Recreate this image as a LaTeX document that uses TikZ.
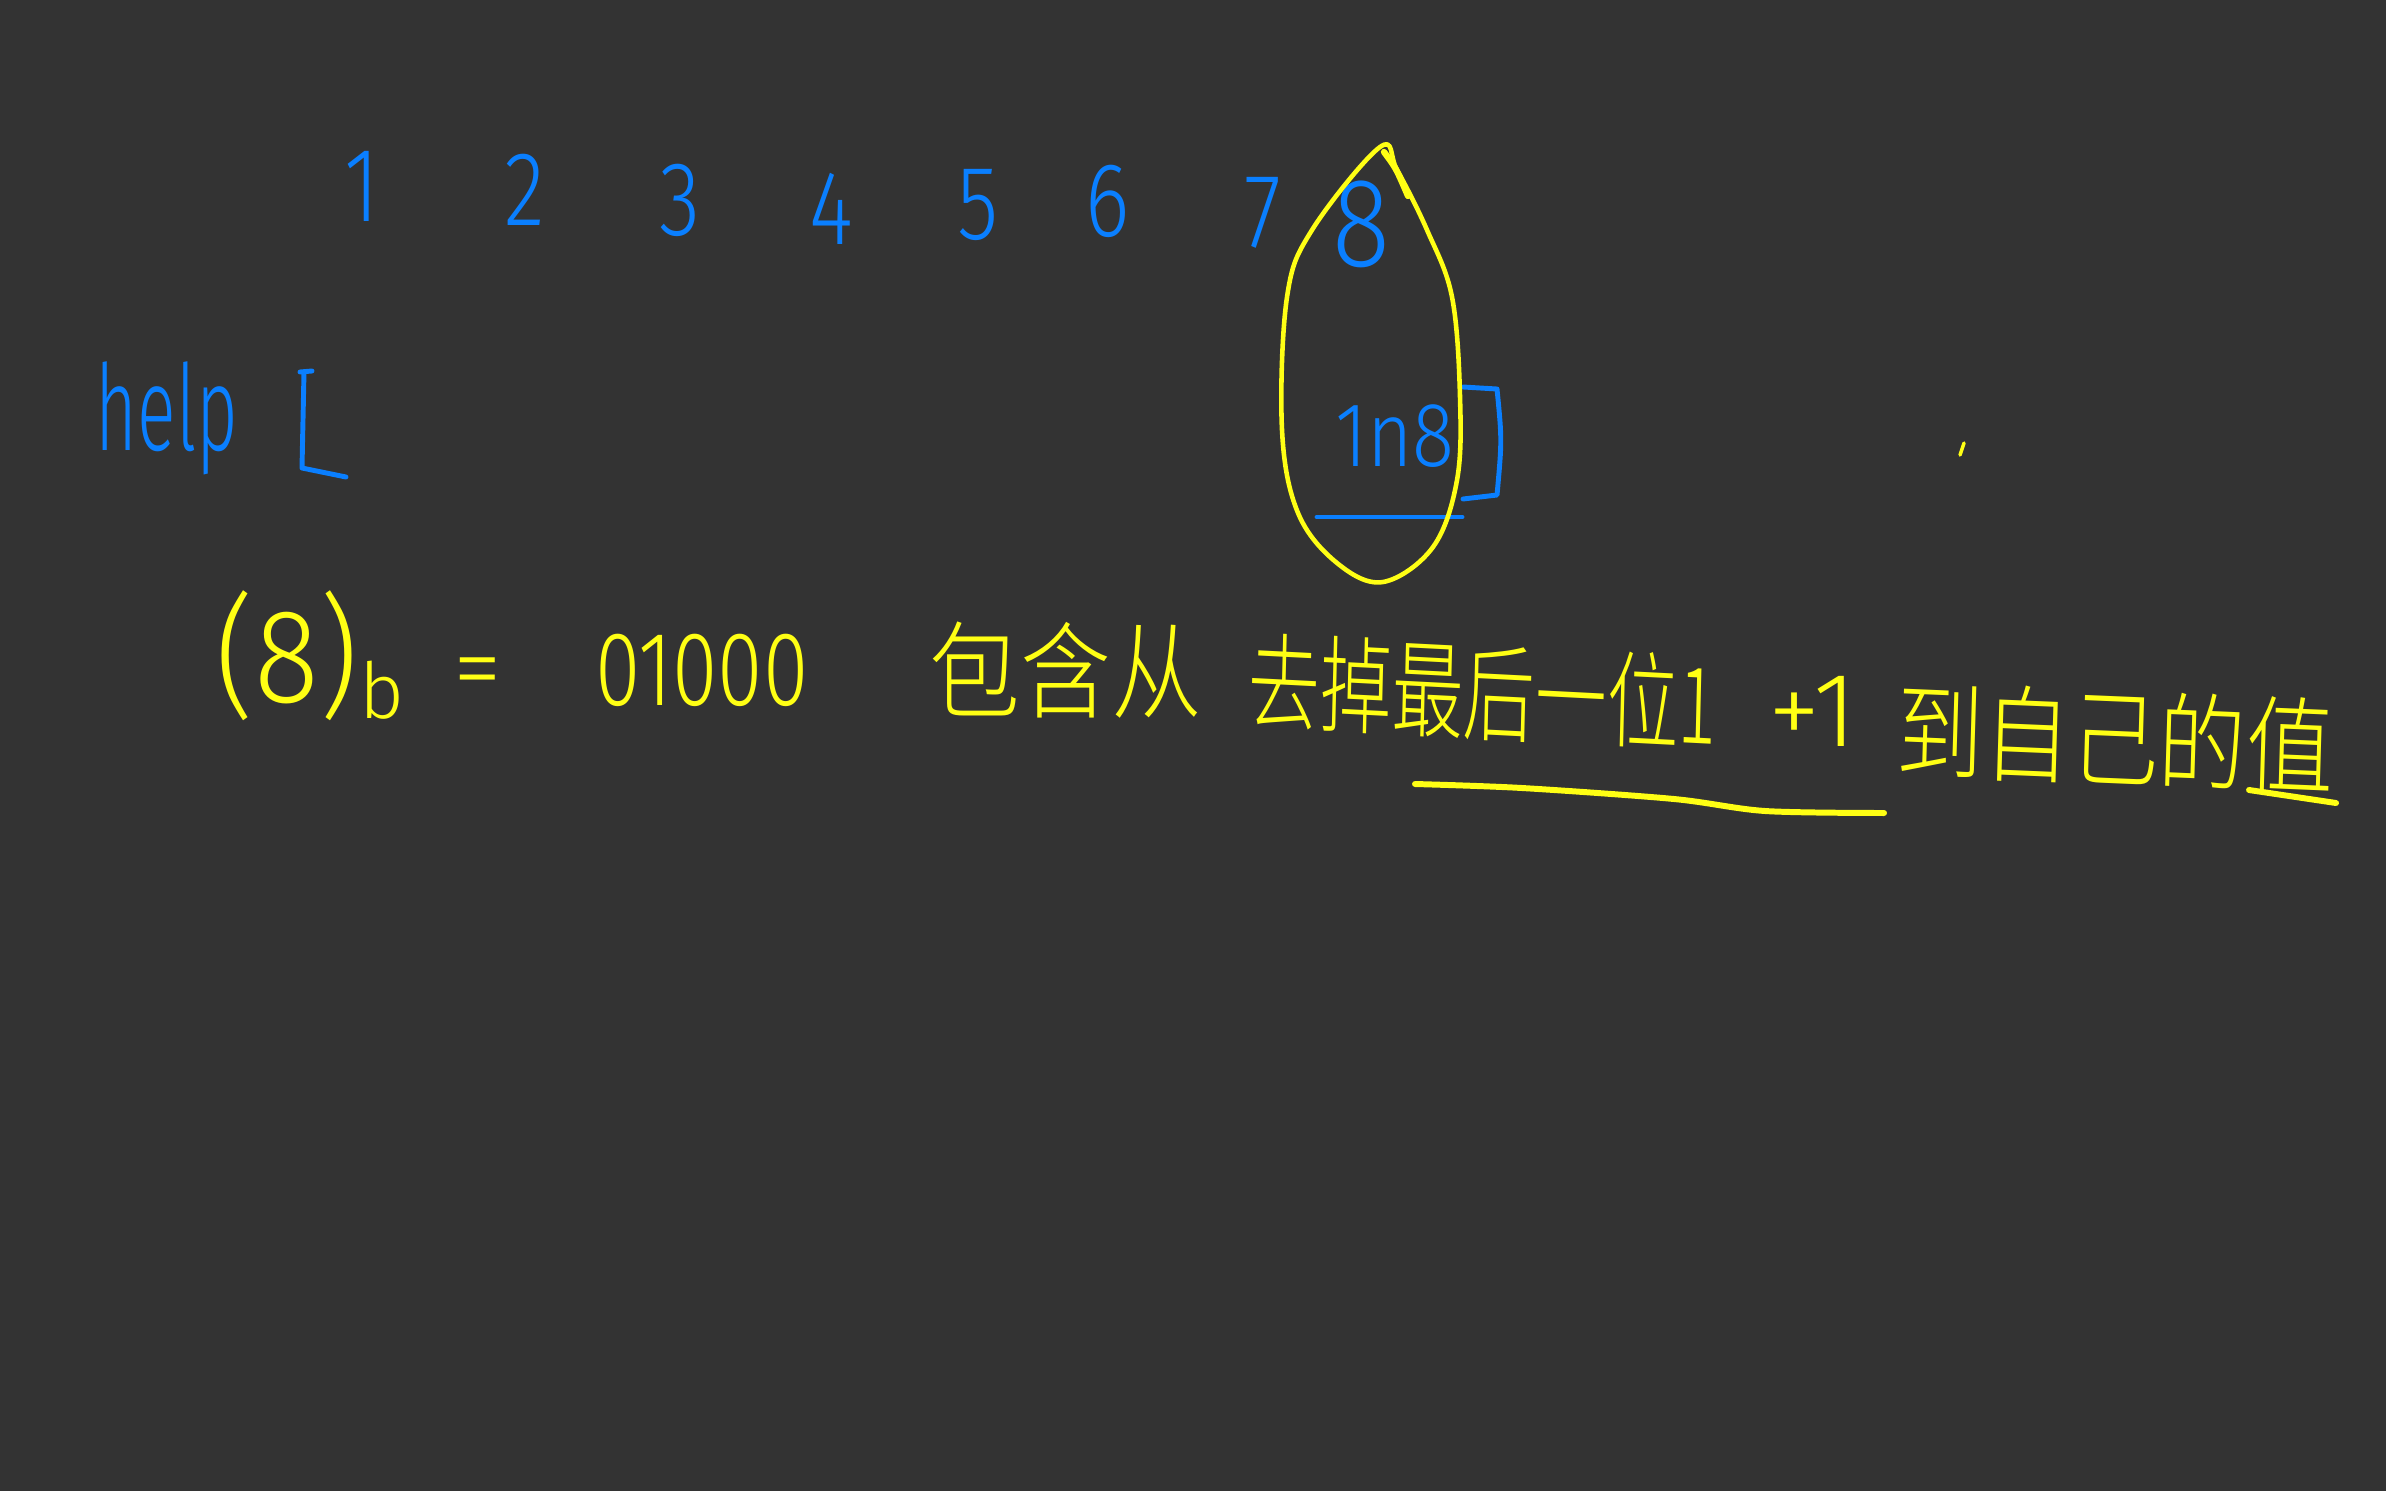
\documentclass[tikz,border=0pt]{standalone}
\usepackage{fontspec}
\setmainfont{Fira Sans Light}
\newfontfamily\cjk{Noto Sans CJK SC}[UprightFont={* Light}]
\definecolor{board}{HTML}{333333}
\definecolor{penblue}{HTML}{0A7FFF}
\definecolor{penyellow}{HTML}{FFFF14}
\begin{document}
\begin{tikzpicture}[x=0.01cm, y=-0.01cm,
    blueink/.style={text=penblue, inner sep=0pt},
    yellowink/.style={text=penyellow, inner sep=0pt},
    bluestroke/.style={draw=penblue, line width=1.4pt, line cap=round, line join=round},
    yellowstroke/.style={draw=penyellow, line width=1.3pt, line cap=round, line join=round}]
    \fill[board] (0,0) rectangle (2386,1491);

    % Index row (top)
    \foreach \d/\x/\y in {1/362/186, 2/525/190, 3/680/200, 4/831/209, 5/978/205, 6/1108/201, 7/1263/213}
        \node[blueink, font=\fontsize{30}{30}\selectfont, xscale=0.8] (idx\d) at (\x,\y) {\d};
    \node[blueink, font=\fontsize{36}{36}\selectfont, xscale=0.85] (idx8) at (1361,224) {8};

    % help array
    \node[blueink, font=\fontsize{34}{34}\selectfont, xscale=0.6] (help) at (167,418) {help};
    \draw[bluestroke] (300,372) -- (312,371);
    \draw[bluestroke] (304,372) -- (302,468) -- (346,477);
    \node[blueink, font=\fontsize{26}{26}\selectfont, xscale=0.85] (range) at (1395,436) {1n8};
    \draw[bluestroke] (1463,387) -- (1497,389) .. controls (1502,440) .. (1497,495) -- (1463,499);
    \draw[bluestroke] (1317,517) -- (1462,517);

    % circled column
    \draw[yellowstroke] plot[smooth cycle, tension=0.6] coordinates {(1380,147) (1397,170) (1427,230) (1452,297) (1460,397) (1457,480) (1433,547) (1383,582) (1337,563) (1298,513) (1282,430) (1287,297) (1312,230)};
    \draw[yellowstroke, line width=1.8pt] (1384,152) .. controls (1396,168) .. (1408,196);

    % binary of 8
    \node[yellowink, font=\fontsize{38}{38}\selectfont, xscale=0.9] (eight) at (287,656) {(8)};
    \node[yellowink, font=\fontsize{22}{22}\selectfont] (base) at (382,690) {b};
    \node[yellowink, font=\fontsize{28}{28}\selectfont] (eq) at (478,680) {=};
    \node[yellowink, font=\fontsize{30}{30}\selectfont, xscale=0.78] (bin) at (702,670) {01000};

    % explanation
    \node[yellowink, font=\cjk\fontsize{30}{30}\selectfont, xscale=0.86] (incl) at (1066,670) {包含从};
    \node[yellowink, font=\cjk\fontsize{30}{30}\selectfont, xscale=0.68, rotate=-2] (drop) at (1483,692) {去掉最后一位1};
    \node[yellowink, font=\fontsize{30}{30}\selectfont] (plus) at (1813,711) {+1};
    \node[yellowink, font=\cjk\fontsize{30}{30}\selectfont, xscale=0.83, rotate=-2] (self) at (2115,738) {到自己的值};
    \draw[yellowstroke, line width=1.7pt] plot[smooth] coordinates {(1415,784) (1522,788) (1674,799) (1765,811) (1884,813)};
    \draw[yellowstroke, line width=1.7pt] (2249,790) -- (2336,803);
    \draw[yellowstroke, line width=1pt] (1960,455) -- (1964,443);
\end{tikzpicture}
\end{document}
